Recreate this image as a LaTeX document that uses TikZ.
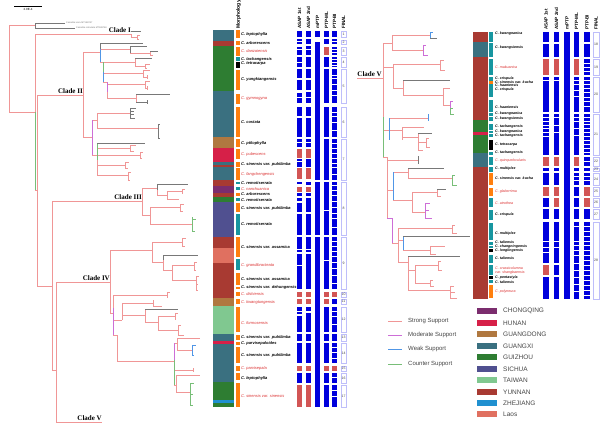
\documentclass[tikz,border=0pt]{standalone}
\usepackage{fontspec}
\setmainfont{Liberation Sans}
\newfontfamily\clfont{Liberation Serif}
\definecolor{tpink}{RGB}{240,150,150}
\definecolor{tmag}{RGB}{205,110,215}
\definecolor{tblu}{RGB}{80,150,230}
\definecolor{tgrn}{RGB}{120,190,120}
\definecolor{tgry}{RGB}{120,120,120}
\definecolor{cCQ}{RGB}{123,45,110}
\definecolor{cHN}{RGB}{214,32,72}
\definecolor{cGD}{RGB}{176,120,64}
\definecolor{cGX}{RGB}{58,112,128}
\definecolor{cGZ}{RGB}{46,125,50}
\definecolor{cSC}{RGB}{80,80,144}
\definecolor{cTW}{RGB}{128,200,144}
\definecolor{cYN}{RGB}{168,58,50}
\definecolor{cZJ}{RGB}{32,144,208}
\definecolor{cLA}{RGB}{224,112,96}
\definecolor{morO}{RGB}{255,127,14}
\definecolor{morT}{RGB}{23,150,160}
\definecolor{barblue}{RGB}{0,0,220}
\definecolor{barred}{RGB}{210,85,85}
\definecolor{spred}{RGB}{220,50,50}
\definecolor{finc}{RGB}{190,190,250}
\definecolor{legc}{RGB}{70,70,70}
\newcommand\mybar[3]{\foreach \a/\b in {#3} {\fill[barblue] (#1,\a) rectangle (#2,\b);}}
\newcommand\myred[3]{\foreach \a/\b in {#3} {\fill[barred] (#1,\a) rectangle (#2,\b);}}
\newcommand\mystrip[3]{\foreach \a/\b/\c in {#3} {\fill[\c] (#1,\a) rectangle (#2,\b);}}
\begin{document}
\begin{tikzpicture}[x=1pt,y=-1pt,
 tpk/.style={draw=tpink,line width=0.6pt},
 tmg/.style={draw=tmag,line width=0.6pt},
 tbl/.style={draw=tblu,line width=0.6pt},
 tgr/.style={draw=tgrn,line width=0.6pt},
 tgy/.style={draw=tgry,line width=0.6pt},
 sp/.style={font=\fontsize{4}{4}\selectfont\bfseries\itshape, anchor=west, inner sep=0pt},
 spr/.style={font=\fontsize{4}{4}\selectfont\itshape, text=spred, anchor=west, inner sep=0pt},
 rsp/.style={font=\fontsize{3.6}{3.6}\selectfont\bfseries\itshape, anchor=west, inner sep=0pt},
 rspr/.style={font=\fontsize{3.6}{3.6}\selectfont\itshape, text=spred, anchor=west, inner sep=0pt},
 hdr/.style={font=\fontsize{4.6}{4.6}\selectfont\bfseries, rotate=90, anchor=west, inner sep=0pt},
 clade/.style={font=\clfont\bfseries\fontsize{7}{7}\selectfont, inner sep=0pt},
 finbox/.style={draw=finc, line width=0.5pt, fill=white},
 fnum/.style={font=\fontsize{3.5}{3.5}\selectfont, text=legc, inner sep=0pt},
 legt/.style={font=\fontsize{6}{6}\selectfont, text=legc, anchor=west, inner sep=0pt},
 regt/.style={font=\fontsize{6.5}{6.5}\selectfont, text=legc, anchor=west, inner sep=0pt},
 tiny/.style={font=\fontsize{2.3}{2.3}\selectfont, text=tgry, anchor=west, inner sep=0pt}]
\useasboundingbox (0,0) rectangle (600,423);
\fill[white] (0,0) rectangle (600,423);
% scale bar
\draw[line width=0.5pt] (14,6) -- (42,6);
\node[font=\fontsize{3}{3}\selectfont, inner sep=0pt] (scl) at (28,9.5) {2.0E-4};
% ---------- left tree ----------
\draw[tpk] (9,25)--(9,112) (9,25)--(35,25) (9,112)--(35,112)
 (35,34)--(35,112) (35,190)--(37,190) (37,95)--(37,286)
 (35,34)--(131,34) (131,34)--(131,37) (131,37)--(137,37) (137,35)--(137,39) (137,35)--(140,35) (137,39)--(139,39)
 (37,95)--(83,95) (83,52)--(83,137) (83,52)--(100,52) (83,137)--(92,137)
 (100,49)--(130,49) (130,53)--(150,53) (150,51)--(150,55) (150,55)--(153,55)
 (100,62)--(103,62) (103,62)--(135,62) (135,58)--(135,66) (135,66)--(145,66) (145,64)--(145,68) (145,64)--(150,64) (145,68)--(147,68)
 (103,73)--(143,73) (143,70)--(143,77) (143,70)--(150,70) (143,77)--(147,77) (147,75)--(147,79)
 (103,82)--(107,82) (107,84)--(145,84) (145,81)--(145,88) (145,81)--(150,81) (145,88)--(147,88) (147,86)--(147,90)
 (107,92)--(107,98) (107,98)--(136,98) (136,94)--(136,102)
 (92,120)--(97,120) (97,113)--(97,128) (97,113)--(130,113) (97,128)--(158,128)
 (92,155)--(97,155) (97,160)--(97,175) (97,148)--(130,148) (130,145)--(130,151) (130,145)--(136,145) (130,151)--(134,151)
 (97,155)--(140,155) (140,152)--(140,158) (140,152)--(143,152) (140,158)--(142,158)
 (97,165)--(125,165) (125,162)--(125,168) (125,162)--(129,162) (125,168)--(128,168)
 (97,175)--(128,175) (128,172)--(128,180) (128,180)--(130,180) (128,172)--(131,172)
 (52,201)--(142,201) (142,188)--(142,215) (142,188)--(157,188) (157,190)--(157,195) (157,195)--(167,195) (167,191)--(167,199) (167,191)--(182,191) (182,189)--(182,194) (182,189)--(185,189) (167,199)--(179,199)
 (142,215)--(150,215) (150,207)--(150,224) (150,207)--(180,207) (180,204)--(180,211) (180,204)--(184,204) (180,211)--(183,211) (150,224)--(192,224)
 (52,201)--(52,370) (37,286)--(52,286) (52,370)--(56,370)
 (56,282)--(56,422) (56,282)--(110,282) (56,422)--(102,422)
 (110,250)--(110,313) (110,250)--(152,250) (152,242)--(152,262) (152,242)--(182,242) (182,238)--(182,246) (182,238)--(186,238) (182,246)--(185,246) (152,262)--(163,262) (163,260)--(163,270) (163,270)--(172,270) (172,265)--(172,280) (172,265)--(194,265) (194,262)--(194,270) (194,262)--(197,262) (194,270)--(196,270) (172,280)--(196,280) (196,276)--(196,290) (196,276)--(199,276) (196,290)--(198,290) (196,284)--(198,284)
 (110,313)--(113,313) (113,295)--(113,308) (113,295)--(167,295) (167,292)--(167,298) (167,292)--(170,292)
 (113,320)--(122,320) (122,303)--(122,320) (122,303)--(153,303) (153,300)--(153,306) (153,306)--(162,306) (122,315)--(145,315) (145,309)--(145,322) (145,322)--(158,322) (158,316)--(158,330) (158,316)--(175,316) (175,313)--(175,320) (175,313)--(178,313) (158,330)--(178,330) (178,325)--(178,335) (178,335)--(184,335) (178,325)--(181,325)
 (113,335)--(117,335) (117,335)--(117,361) (117,361)--(174,361)
 (174,343)--(177,343) (177,338)--(177,350) (177,338)--(200,338) (177,350)--(192,350)
 (174,370)--(193,370) (193,368)--(193,372)
 (174,385)--(176,385) (176,375)--(176,392) (176,375)--(200,375) (176,392)--(190,392);
\draw[tmg] (107,82)--(107,92) (92,120)--(92,155) (113,308)--(113,335) (174,343)--(174,360);
\draw[tbl] (100,49)--(100,62) (103,72)--(103,82) (192,345)--(192,355) (192,345)--(196,345) (192,355)--(194,355);
\draw[tgr] (35,112)--(35,190) (103,62)--(103,72) (97,143)--(97,160) (192,217)--(192,231) (192,219)--(196,219) (192,231)--(195,231)
 (174,360)--(174,385) (190,383)--(190,405) (190,383)--(194,383) (190,394)--(193,394) (190,405)--(193,405);
\draw[tgy] (35,23)--(35,28) (35,23)--(65,23) (35,28)--(75,28) (131,31)--(141,31) (100,43)--(100,49) (100,43)--(143,43)
 (130,46)--(130,53) (130,46)--(147,46) (150,51)--(158,51) (135,58)--(152,58) (136,94)--(170,94) (136,102)--(147,102) (147,100)--(147,104)
 (130,108)--(130,118) (130,108)--(136,108) (130,111)--(134,111) (130,114)--(134,114) (130,118)--(135,118)
 (158,124)--(158,138) (158,124)--(160,124) (158,138)--(160,138) (97,143)--(145,143) (157,184)--(157,190) (157,184)--(188,184)
 (163,255)--(163,260) (163,255)--(198,255) (145,309)--(178,309);
\node[tiny] (og1) at (66,23) {Camellia ixora MT188747};
\node[tiny] (og2) at (76,28) {Camellia reticulata MT188748};
\node[clade, anchor=south east] (cl1) at (131,33) {Clade I};
\node[clade, anchor=south east] (cl2) at (83,94) {Clade II};
\node[clade, anchor=south east] (cl3) at (142,200) {Clade III};
\node[clade, anchor=south east] (cl4) at (110,281) {Clade IV};
\node[clade, anchor=south east] (cl5) at (102,421) {Clade V};
% ---------- left columns ----------
\mystrip{213}{234}{30/41/cGX,41/46/cYN,46/91/cGZ,91/137/cGX,137/148/cGD,148/162/cHN,162/165/cGX,165/167/cYN,167/180/cGX,180/186/cYN,186/193/cCQ,193/197/cYN,197/202/cGZ,202/237/cSC,237/248/cYN,248/263/cLA,263/298/cYN,298/306/cGD,306/334/cTW,334/341/cGX,341/344/cHN,344/382/cGX,382/400/cGZ,400/403/cZJ,403/407/cGZ}
\mystrip{236}{240}{30/38/morO,41/45/morO,47/56/morO,57/61/morT,62/68/black,70/90/morO,94/104/morO,107/137/morO,139/147/morO,149/159/morO,162/167/morO,168/180/morO,182/184/morT,187/190/morT,193/196/morO,198/201/morT,203/212/morO,214/235/morT,237/257/morO,259/270/morT,273/285/morO,287/289/morO,292/296/morO,299/304/morO,307/332/morO,335/340/morO,342/345/morO,347/363/morO,366/371/morO,373/380/morO,383/407/morO}
\foreach \y/\s/\t [count=\i] in {34/sp/C. leptophylla,43/sp/C. arborescens,51/spr/C. danzaiensis,59/sp/C. tachangensis,64/sp/C. tetracarpa,79/sp/C. yungkiangensis,99/spr/C. gymnogyna,122/sp/C. costata,143/sp/C. ptilophylla,154/spr/C. pubescens,164/sp/C. sinensis var. pubilimba,174/spr/C. fangchengensis,183/sp/C. remotiserrata,189/spr/C. nanchuanica,194/sp/C. arborescens,200/sp/C. remotiserrata,208/sp/C. sinensis var. pubilimba,224/sp/C. remotiserrata,247/sp/C. sinensis var. assamica,265/spr/C. grandibracteata,279/sp/C. sinensis var. assamica,287/sp/C. sinensis var. dehungensis,294/spr/C. dishiensis,302/spr/C. kwangtungensis,323/spr/C. formosensis,337/sp/C. sinensis var. pubilimba,343/sp/C. parvisepaloides,355/sp/C. sinensis var. pubilimba,368/spr/C. parvisepala,378/sp/C. leptophylla,396/spr/C. sinensis var. sinensis}
 {\node[\s] (ls\i) at (241,\y) {\t};}
\node[hdr, font=\fontsize{5}{5}\selectfont\bfseries] (hmor) at (238.5,29) {Morphology};
\node[hdr] (hl1) at (299.5,29) {ASAP 1st};
\node[hdr] (hl2) at (308.5,29) {ASAP 2nd};
\node[hdr] (hl3) at (317.5,29) {mPTP};
\node[hdr] (hl4) at (326.5,29) {PTP-ML};
\node[hdr] (hl5) at (334.5,29) {PTP-BI};
\node[hdr] (hl6) at (343.5,29) {FINAL};
\mybar{297}{302}{31/37,39/41,42/44,47/49,50/55,57/62,63/67,69/78,80/90,93/97,98/103,107/116,118/137,139/142,143/147,159/161,162/167,182/184,193/196,198/201,203/212,214/235,237/249,250/252,254/265,266/289,307/311,312/314,316/332,334/341,343/363,373/383}
\myred{297}{302}{149/158,168/179,187/192,292/297,299/304,366/371,385/407}
\mybar{306}{311}{31/37,39/44,46/49,50/55,57/67,69/78,80/90,92/97,98/103,107/116,118/137,139/142,143/147,159/167,182/185,193/196,198/212,214/235,237/249,250/252,254/289,307/311,313/332,334/341,343/363,373/383}
\myred{306}{311}{149/158,168/179,187/192,292/297,299/304,366/371,385/407}
\mybar{315}{320}{31/37,42/180,182/235,237/407}
\mybar{324}{329}{31/37,39/44,57/67,69/103,107/137,139/180,182/210,211/235,237/260,261/289,307/332,334/341,343/363,373/383,385/407}
\myred{324}{329}{47/55,292/297,299/304,366/371}
\mybar{332}{337}{31/37,39/41,42/44,47/49,50/52,53/55,57/59,60/62,63/65,66/67,69/75,76/78,79/84,85/90,91/95,96/103,107/112,113/116,117/122,123/130,131/137,139/143,144/148,149/153,154/158,159/163,164/167,168/174,175/180,182/185,186/190,191/195,196/201,202/207,208/213,214/218,219/227,228/235,237/241,242/246,247/251,252/256,257/262,263/268,269/275,276/283,284/289,299/304,307/311,312/316,317/324,325/332,334/341,343/347,348/352,353/358,359/363,373/377,378/383,385/390,391/396,397/407}
\myred{332}{337}{292/297,366/371}
\foreach \a/\b/\n in {31/37/1,40/44/2,47/55/3,57/67/4,69/103/5,107/137/6,139/180/7,182/235/8,237/289/9,292/297/10,299/304/11,307/332/12,334/341/13,343/363/14,366/371/15,373/383/16,385/407/17}
 {\draw[finbox] (341,\a) rectangle (346,\b); \node[fnum] (fn\n) at (343.5,{(\a+\b)/2}) {\n};}
% ---------- right tree ----------
\draw[tpk] (357,78)--(383,78)
 (383,43)--(383,117) (383,43)--(392,43) (392,35)--(392,50) (392,35)--(430,35) (392,50)--(423,50)
 (383,67)--(393,67) (393,64)--(393,88) (393,64)--(440,64) (440,60)--(440,70) (440,60)--(444,60) (440,70)--(445,70) (393,88)--(403,88) (403,80)--(403,95) (403,95)--(443,95) (443,88)--(443,105) (443,88)--(450,88) (443,105)--(450,105)
 (383,157)--(387,157) (383,130)--(389,130) (389,118)--(428,118) (389,130)--(402,130) (402,127)--(402,140) (402,127)--(424,127) (402,137)--(418,137) (418,133)--(418,150) (418,142)--(426,142) (426,138)--(426,147) (426,138)--(429,138) (426,147)--(430,147) (418,150)--(423,150)
 (387,157)--(387,218) (387,160)--(418,160) (387,190)--(393,190)
 (393,172)--(408,172) (408,168)--(408,178) (408,178)--(452,178)
 (393,200)--(412,200) (412,192)--(412,212) (412,192)--(437,192) (437,189)--(437,196) (437,196)--(441,196) (412,212)--(425,212)
 (392,243)--(398,243) (398,228)--(398,262) (398,228)--(452,228) (452,225)--(452,233) (452,225)--(455,225) (452,233)--(457,233) (398,240)--(403,240) (403,250)--(430,250) (430,246)--(430,254) (430,246)--(445,246) (430,254)--(436,254)
 (398,262)--(408,262) (408,256)--(408,290) (408,270)--(415,270) (415,265)--(415,283) (415,265)--(438,265) (438,261)--(438,270) (438,270)--(442,270) (438,261)--(441,261)
 (415,283)--(430,283) (430,280)--(430,286) (430,280)--(433,280) (430,286)--(434,286)
 (408,290)--(450,290) (450,286)--(450,298) (450,286)--(454,286) (450,298)--(457,298) (450,292)--(455,292);
\draw[tmg] (423,45)--(423,55) (423,45)--(426,45) (423,55)--(428,55) (387,218)--(392,218) (392,218)--(392,243)
 (425,203)--(425,218) (425,203)--(430,203) (425,210)--(429,210) (425,218)--(432,218) (450,101)--(450,108) (450,101)--(453,101);
\draw[tbl] (430,32)--(430,38) (430,32)--(433,32) (389,118)--(389,140) (428,114)--(428,121) (393,172)--(393,200) (403,236)--(403,250);
\draw[tgr] (383,117)--(383,157) (452,175)--(452,185) (452,175)--(455,175) (452,185)--(457,185)
 (450,108)--(450,114) (450,114)--(454,114) (450,108)--(453,108);
\draw[tgy] (430,38)--(437,38) (403,80)--(450,80) (418,133)--(432,133) (418,156)--(418,164) (408,168)--(444,168) (437,189)--(446,189) (403,236)--(470,236) (408,256)--(460,256);
\node[clade, anchor=south east] (cl5r) at (382,77.3) {Clade V};
% ---------- right columns ----------
\mystrip{473}{488}{32/42/cYN,42/57/cGX,57/120/cYN,120/132/cGZ,132/135/cHN,135/153/cGZ,153/167/cGX,167/299/cYN}
\mystrip{489}{493}{32/42/morT,43/57/morT,59/75/morT,77/81/morT,81/84/morO,84/87/morT,87/97/morT,100/112/morT,113/116/morT,117/121/morT,124/130/morT,131/133/morT,134/137/morT,140/150/black,152/155/morT,157/165/morT,167/172/morT,173/185/morO,188/196/morO,198/207/morT,210/220/morT,223/240/morT,242/245/morT,246/248/morT,249/252/black,255/263/morT,265/275/morT,276/279/black,280/283/morT,285/298/morO}
\foreach \y/\s/\t [count=\i] in {34/rsp/C. kwangnanica,48/rsp/C. kwangsiensis,67/rspr/C. makuanica,79/rsp/C. crispula,82/rsp/C. sinensis var. kucha,85/rsp/C. haaniensis,90/rsp/C. crispula,107/rsp/C. haaniensis,114/rsp/C. kwangnanica,119/rsp/C. kwangsiensis,127/rsp/C. tachangensis,132/rsp/C. kwangnanica,136/rsp/C. tachangensis,145/rsp/C. tetracarpa,153/rsp/C. tachangensis,161/rspr/C. quinquelocularis,169/rsp/C. multiplex,178/rsp/C. sinensis var. kucha,192/rspr/C. glaberrima,203/rspr/C. atrothea,215/rsp/C. crispula,234/rsp/C. multiplex,242/rsp/C. taliensis,247/rsp/C. changningensis,251/rsp/C. longlingensis,258/rsp/C. taliensis,268/rspr/C. crassicolumna,273/rspr/var. shangbaensis,278/rsp/C. pentastyla,282/rsp/C. taliensis,292/rspr/C. polyneura}
 {\node[\s] (rs\i) at (495,\y) {\t};}
\node[hdr] (hr1) at (546,30) {ASAP 1st};
\node[hdr] (hr2) at (556.5,30) {ASAP 2nd};
\node[hdr] (hr3) at (567,30) {mPTP};
\node[hdr] (hr4) at (576.5,30) {PTP-ML};
\node[hdr] (hr5) at (587,30) {PTP-BI};
\node[hdr] (hr6) at (596,30) {FINAL};
\mybar{543}{549}{32/42,44/57,77/80,81/112,114/117,118/121,122/125,126/128,129/132,133/136,137/155,168/171,173/185,198/207,209/219,222/241,242/247,248/252,253/263,277/299}
\myred{543}{549}{59/75,157/166,187/196,265/275}
\mybar{554}{559}{32/42,44/57,77/80,81/112,114/117,118/125,126/132,133/155,168/171,173/185,209/219,222/241,242/247,248/263,265/275,277/299}
\myred{554}{559}{59/75,157/166,187/196,198/207}
\mybar{564}{570}{32/299}
\mybar{574}{579}{32/57,77/80,81/84,85/90,91/96,97/112,114/117,118/121,122/128,129/135,136/155,168/171,173/176,177/180,181/185,187/196,198/207,209/219,222/226,227/241,242/245,246/250,251/255,256/263,264/270,271/277,278/284,285/291,292/299}
\myred{574}{579}{59/75,157/166}
\mybar{584}{590}{32/42,44/57,59/63,64/67,68/71,72/75,77/80,81/84,85/88,89/92,93/97,98/101,102/106,107/112,114/117,118/121,122/124,125/128,129/132,133/136,137/140,141/144,145/148,149/152,153/155,157/161,162/166,168/171,173/176,177/180,181/185,209/219,222/226,227/231,232/236,237/241,242/245,246/250,251/255,256/260,261/265,266/270,271/275,276/280,281/285,286/290,291/295,296/299}
\myred{584}{590}{187/196,198/207}
\foreach \a/\b/\n in {32/57/18,59/75/19,77/112/20,114/155/21,157/166/22,168/171/23,173/185/24,187/196/25,198/207/26,209/219/27,222/299/28}
 {\draw[finbox] (593,\a) rectangle (599,\b); \node[fnum] (fn\n) at (596,{(\a+\b)/2}) {\n};}
% ---------- legends ----------
\foreach \y/\s/\t [count=\i] in {321/tpk/Strong Support,335/tmg/Moderate Support,349/tbl/Weak Support,364/tgr/Counter Support}
 {\coordinate (la\i) at (388,\y); \coordinate (lb\i) at (402,\y);
  \draw[\s, line width=0.8pt] (la\i) -- (lb\i);
  \node[legt] (lt\i) at (408,\y) {\t};}
\foreach \y/\c/\t [count=\i] in {311/cCQ/CHONGQING,323/cHN/HUNAN,334/cGD/GUANGDONG,346/cGX/GUANGXI,357/cGZ/GUIZHOU,369/cSC/SICHUA,380/cTW/TAIWAN,392/cYN/YUNNAN,403/cZJ/ZHEJIANG,414/cLA/Laos}
 {\fill[\c] (477,\y-3) rectangle (497,\y+3);
  \node[regt] (rg\i) at (503,\y) {\t};}
\end{tikzpicture}
\end{document}
